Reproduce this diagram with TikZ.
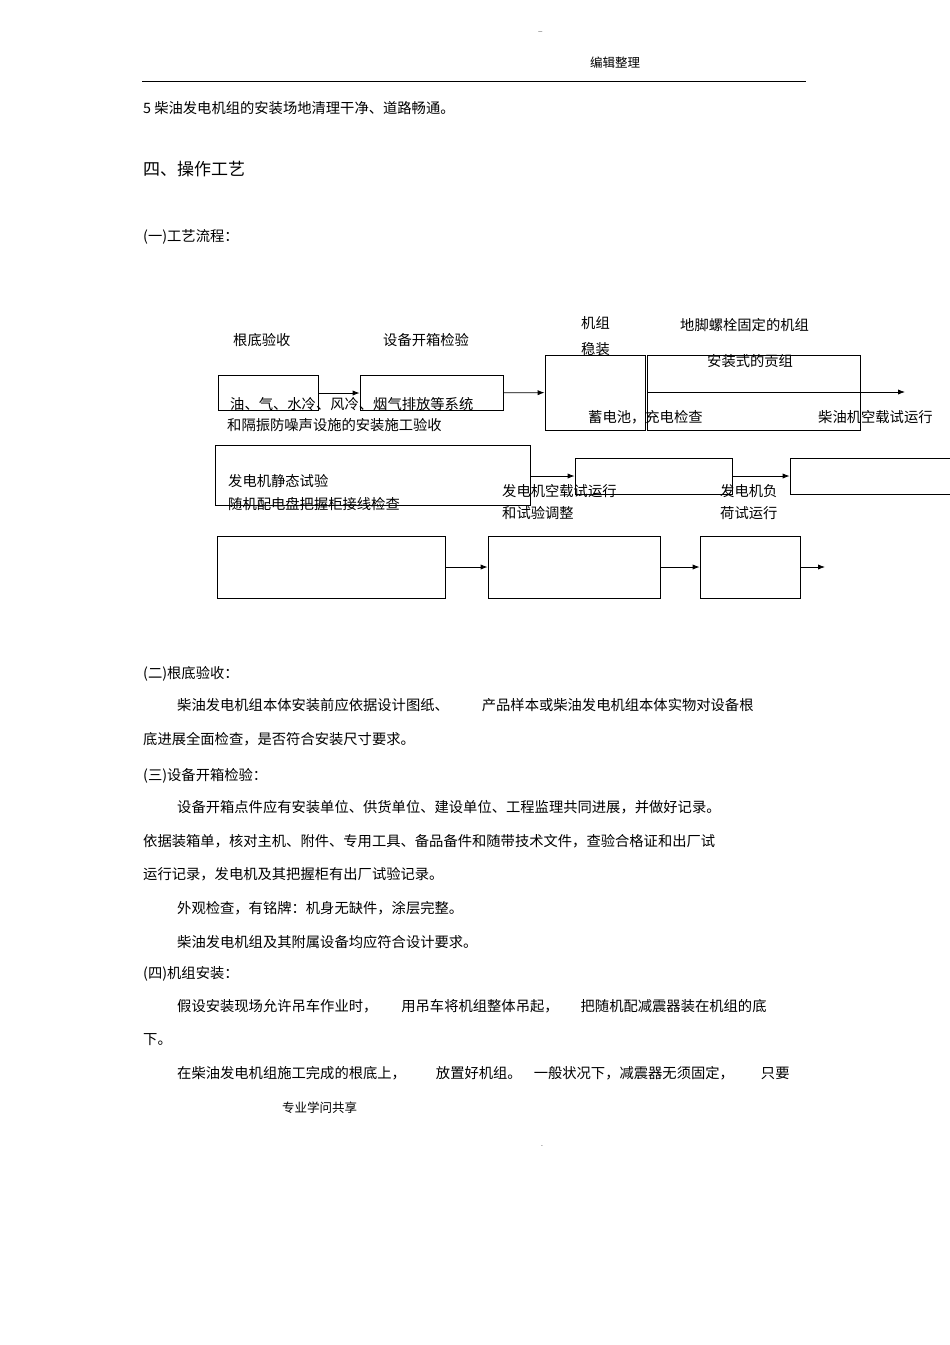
\documentclass[tikz,border=0pt]{standalone}
\usepackage{fontspec}
\setmainfont{Noto Sans CJK SC}
\usetikzlibrary{positioning,arrows.meta}
\tikzset{
  box/.style={draw, thick},
  txt/.style={anchor=west, inner sep=0pt, font=\fontsize{14.3}{16}\selectfont},
  flow/.style={-{Latex[length=7pt]}, thick},
}
\begin{document}
\begin{tikzpicture}[x=1pt, y=-1pt]
    \useasboundingbox (0,0) rectangle (950,1345);
    % header and footer
    \node (dash) [txt, font=\tiny] at (538,33) {---};
    \node (edit) [txt, font=\fontsize{12.5}{14}\selectfont] at (590,63) {编辑整理};
    \draw (142,81) -- (806,81);
    \node (share) [txt, font=\fontsize{12.5}{14}\selectfont] at (282,1108) {专业学问共享};
    \node (foot) [txt, font=\tiny] at (541,1147) {-};

    % text above the flow chart
    \node (t5) [txt] at (143,108) {5 柴油发电机组的安装场地清理干净、道路畅通。};
    \node (t4) [txt, font=\fontsize{17}{19}\selectfont] at (143,169) {四、操作工艺};
    \node (t41) [txt] at (143,237) {(一)工艺流程：};

    % row 1
    \node (base) [box, minimum width=100pt, minimum height=35pt] at (268,393) {};
    \node (open) [box, minimum width=143pt, minimum height=35pt] at (431.5,393) {};
    \node (set) [box, minimum width=100pt, minimum height=75pt] at (595,392.5) {};
    \node (bolt) [box, minimum width=213pt, minimum height=75pt] at (753.5,392.5) {};
    \draw (647,392) -- (860,392);
    \coordinate (out1) at (905,392);
    \draw[flow] (base) -- (open);
    \draw[flow] (open) -- (set);
    \draw[flow] (bolt.east |- out1) -- (out1);

    % row 2
    \node (static) [box, minimum width=315pt, minimum height=60pt] at (372.5,475) {};
    \node (idle) [box, minimum width=157pt, minimum height=36pt] at (653.5,476) {};
    \node (load) [box, minimum width=160pt, minimum height=36pt] at (870,476) {};
    \draw[flow] (static.east |- idle) -- (idle);
    \draw[flow] (idle) -- (load);

    % row 3
    \node (sys) [box, minimum width=228pt, minimum height=62pt] at (331,567) {};
    \node (batt) [box, minimum width=172pt, minimum height=62pt] at (574,567) {};
    \node (run) [box, minimum width=100pt, minimum height=62pt] at (750,567) {};
    \coordinate (out3) at (825,567);
    \draw[flow] (sys) -- (batt);
    \draw[flow] (batt) -- (run);
    \draw[flow] (run) -- (out3);

    % labels
    \node (l1) [txt] at (233,340) {根底验收};
    \node (l2) [txt] at (383,340) {设备开箱检验};
    \node (l3) [txt] at (581,323) {机组};
    \node (l3b) [txt] at (581,349) {稳装};
    \node (l4) [txt] at (680,325) {地脚螺栓固定的机组};
    \node (l4b) [txt] at (707,361) {安装式的贡组};
    \node (l5) [txt] at (230,404) {油、气、水冷、风冷、烟气排放等系统};
    \node (l5b) [txt] at (227,425) {和隔振防噪声设施的安装施工验收};
    \node (l6) [txt] at (588,417) {蓄电池，充电检查};
    \node (l7) [txt] at (818,417) {柴油机空载试运行};
    \node (l8) [txt] at (228,481) {发电机静态试验};
    \node (l8b) [txt] at (228,504) {随机配电盘把握柜接线检查};
    \node (l9) [txt] at (502,491) {发电机空载试运行};
    \node (l9b) [txt] at (502,513) {和试验调整};
    \node (l10) [txt] at (720,491) {发电机负};
    \node (l10b) [txt] at (720,513) {荷试运行};

    % text below the flow chart
    \node (s2) [txt] at (143,674) {(二)根底验收：};
    \node (p1) [txt] at (177,705) {柴油发电机组本体安装前应依据设计图纸、\hspace{33pt}产品样本或柴油发电机组本体实物对设备根};
    \node (p1b) [txt] at (143,739) {底进展全面检查，是否符合安装尺寸要求。};
    \node (s3) [txt] at (143,776) {(三)设备开箱检验：};
    \node (p2) [txt] at (177,807) {设备开箱点件应有安装单位、供货单位、建设单位、工程监理共同进展，并做好记录。};
    \node (p2b) [txt] at (143,841) {依据装箱单，核对主机、附件、专用工具、备品备件和随带技术文件，查验合格证和出厂试};
    \node (p2c) [txt] at (143,874) {运行记录，发电机及其把握柜有出厂试验记录。};
    \node (p3) [txt] at (177,908) {外观检查，有铭牌：机身无缺件，涂层完整。};
    \node (p4) [txt] at (177,942) {柴油发电机组及其附属设备均应符合设计要求。};
    \node (s4) [txt] at (143,974) {(四)机组安装：};
    \node (p5) [txt] at (177,1006) {假设安装现场允许吊车作业时，\hspace{24pt}用吊车将机组整体吊起，\hspace{22pt}把随机配减震器装在机组的底};
    \node (p5b) [txt] at (143,1040) {下。};
    \node (p6) [txt] at (177,1073) {在柴油发电机组施工完成的根底上，\hspace{30pt}放置好机组。\hspace{12pt}一般状况下，减震器无须固定，\hspace{27pt}只要};
\end{tikzpicture}
\end{document}
